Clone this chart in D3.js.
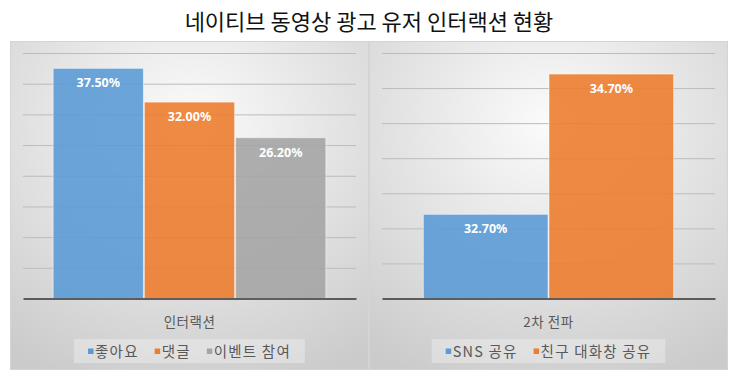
<!DOCTYPE html>
<html>
<head>
<meta charset="utf-8">
<script src="https://cdn.jsdelivr.net/npm/d3@7"></script>
<style>
  body { margin: 0; background: #fff; }
  svg { display: block; font-family: 'Noto Sans CJK KR', 'Noto Sans', sans-serif; }
</style>
</head>
<body>
<div id="chart"></div>
<script>
const title = '네이티브 동영상 광고 유저 인터랙션 현황'

// left panel
const leftCategory = '인터랙션'
const leftSeries = ['좋아요', '댓글', '이벤트 참여']
const leftValues = [37.5, 32.0, 26.2]
const leftTicks = [0, 5, 10, 15, 20, 25, 30, 35, 40]

// right panel
const rightCategory = '2차 전파'
const rightSeries = ['SNS 공유', '친구 대화창 공유']
const rightValues = [32.7, 34.7]
const rightTicks = [31.5, 32, 32.5, 33, 33.5, 34, 34.5, 35]

const colors = ['#5b9bd5', '#ed7d31', '#a5a5a5']

const W = 740, H = 380

const svg = d3.select('#chart').append('svg').attr('width', W).attr('height', H)

const defs = svg.append('defs')
const grad = defs.append('radialGradient').attr('id', 'panelBg')
  .attr('cx', '50%').attr('cy', '25%').attr('r', '85%')
grad.append('stop').attr('offset', '0%').attr('stop-color', '#fbfbfb')
grad.append('stop').attr('offset', '100%').attr('stop-color', '#cbcbcb')

svg.append('text')
  .attr('x', 369).attr('y', 30)
  .attr('text-anchor', 'middle')
  .attr('font-size', 22)
  .attr('fill', '#111')
  .text(title)

function drawPanel(opts) {
  const { x0, x1, category, series, values, ticks } = opts
  const top = 41, bottom = 370
  const plotL = x0 + 13, plotR = x1 - 13
  const baseY = 298.5, topY = 53

  const g = svg.append('g')
  g.append('rect')
    .attr('x', x0 + 0.5).attr('y', top + 0.5)
    .attr('width', x1 - x0 - 1).attr('height', bottom - top - 1)
    .attr('fill', 'url(#panelBg)')
    .attr('stroke', '#d4d4d4')

  const y = d3.scaleLinear()
    .domain([ticks[0], ticks[ticks.length - 1]])
    .range([baseY, topY])

  const x = d3.scaleBand()
    .domain(series)
    .range([plotL, plotR])
    .paddingInner(0)
    .paddingOuter(0.325)

  // gridlines
  g.append('g')
    .attr('transform', `translate(${plotL},0)`)
    .call(d3.axisLeft(y).tickValues(ticks.slice(1)).tickSize(-(plotR - plotL)).tickFormat(''))
    .call((s) => s.select('.domain').remove())
    .selectAll('line')
    .attr('stroke', '#bcbcbc')
    .attr('stroke-width', 1)

  g.selectAll('rect.bar')
    .data(series)
    .enter()
    .append('rect')
    .attr('class', 'bar')
    .attr('x', (d) => x(d) + 0.5)
    .attr('y', (d, i) => y(values[i]))
    .attr('width', x.bandwidth() - 1)
    .attr('height', (d, i) => baseY - y(values[i]))
    .attr('fill', (d, i) => colors[i])
    .attr('fill-opacity', 0.9)
    .attr('stroke', '#ffffff')
    .attr('stroke-opacity', 0.5)
    .attr('stroke-width', 1)

  g.selectAll('text.val')
    .data(series)
    .enter()
    .append('text')
    .attr('class', 'val')
    .attr('x', (d) => x(d) + x.bandwidth() / 2)
    .attr('y', (d, i) => y(values[i]) + 19)
    .attr('text-anchor', 'middle')
    .attr('font-family', 'Noto Sans, sans-serif')
    .attr('font-weight', 'bold')
    .attr('font-size', 12.5)
    .attr('fill', '#fff')
    .text((d, i) => values[i].toFixed(2) + '%')

  // axis line
  g.append('g')
    .attr('transform', `translate(0,${baseY})`)
    .call(d3.axisBottom(d3.scaleLinear().range([plotL, plotR])).ticks(0).tickSizeOuter(0))
    .select('.domain')
    .attr('stroke', '#333')
    .attr('stroke-width', 1.5)

  const cx = (plotL + plotR) / 2
  g.append('text')
    .attr('x', cx).attr('y', 327)
    .attr('text-anchor', 'middle')
    .attr('font-size', 13.5)
    .attr('letter-spacing', 0.5)
    .attr('fill', '#595959')
    .text(category)

  // legend
  const lg = g.append('g')
  const bg = lg.append('rect')
    .attr('y', 339).attr('height', 24)
    .attr('fill', '#ffffff').attr('fill-opacity', 0.3)
  let cur = 0
  series.forEach((s, i) => {
    const it = lg.append('g')
    it.append('rect').attr('x', 0).attr('y', 348.5).attr('width', 5.5).attr('height', 5.5).attr('fill', colors[i])
    const t = it.append('text')
      .attr('x', 7).attr('y', 356.5)
      .attr('font-size', 14.5)
      .attr('letter-spacing', 1.2)
      .attr('fill', '#595959')
      .text(s)
    const w = 7 + t.node().getComputedTextLength()
    it.attr('data-off', cur)
    cur += w + 16
  })
  const total = cur - 16
  const lx = cx - total / 2
  lg.selectAll('g').each(function () {
    const v = +d3.select(this).attr('data-off')
    d3.select(this).attr('transform', `translate(${lx + v},0)`)
  })
  bg.attr('x', lx - 14).attr('width', total + 28)
}

drawPanel({ x0: 10, x1: 369, category: leftCategory, series: leftSeries, values: leftValues, ticks: leftTicks })
drawPanel({ x0: 369, x1: 728, category: rightCategory, series: rightSeries, values: rightValues, ticks: rightTicks })
</script>
</body>
</html>
